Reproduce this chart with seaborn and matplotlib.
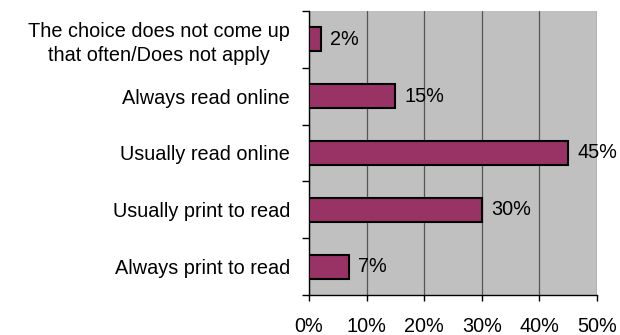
import matplotlib
matplotlib.use("Agg")
import matplotlib.pyplot as plt
import seaborn as sns
import pandas as pd
from matplotlib.ticker import FixedLocator

categories = [
    "The choice does not come up\nthat often/Does not apply",
    "Always read online",
    "Usually read online",
    "Usually print to read",
    "Always print to read",
]
shares = [2, 15, 45, 30, 7]
x_ticks = [0, 10, 20, 30, 40, 50]
x_tick_labels = ["0%", "10%", "20%", "30%", "40%", "50%"]

df = pd.DataFrame({"category": categories, "share": shares})

sns.set_style("white")
plt.rcParams["font.family"] = ["Liberation Sans", "DejaVu Sans"]
plt.rcParams["text.color"] = "black"
plt.rcParams["xtick.color"] = "black"
plt.rcParams["ytick.color"] = "black"
FS = 14.3

fig = plt.figure(figsize=(6.2, 3.35), dpi=100)
ax = fig.add_axes([309 / 620, 40 / 335, 288 / 620, 284 / 335])
ax.set_facecolor("#c0c0c0")

sns.barplot(data=df, x="share", y="category", order=categories, orient="h",
            color="#993366", edgecolor="black", linewidth=1.5, width=0.42,
            saturation=1, ax=ax, zorder=3)

ax.set_xlim(0, 50)
ax.set_ylim(4.5, -0.5)
ax.xaxis.set_major_locator(FixedLocator(x_ticks))
ax.set_xticklabels(x_tick_labels)
ax.grid(axis="x", color="#555555", linewidth=0.9, zorder=0)
ax.set_axisbelow(True)

# y ticks sit on the category boundaries, labels on the centers
ax.yaxis.set_major_locator(FixedLocator(range(len(categories))))
ax.set_yticklabels(categories, fontsize=FS, linespacing=1.3)
for lbl in ax.get_yticklabels():
    lbl.set_multialignment("center")
ax.yaxis.set_minor_locator(FixedLocator([i - 0.5 for i in range(len(categories) + 1)]))
ax.tick_params(axis="y", which="major", length=0, pad=13.5, colors="black")
ax.tick_params(axis="y", which="minor", length=5, width=1, color="black", left=True)
ax.tick_params(axis="x", which="major", length=4, width=1, color="black",
               bottom=True, labelsize=FS, pad=12, labelcolor="black")
ax.set_xlabel("")
ax.set_ylabel("")

for side in ("top", "right"):
    ax.spines[side].set_visible(False)
for side in ("left", "bottom"):
    ax.spines[side].set_color("black")
    ax.spines[side].set_linewidth(1)

for i, v in enumerate(shares):
    ax.annotate(f"{v}%", xy=(v, i), xytext=(6.5, 0), textcoords="offset points",
                va="center", ha="left", fontsize=FS, color="black", zorder=4,
                annotation_clip=False)

fig.savefig("out.png", dpi=100)
